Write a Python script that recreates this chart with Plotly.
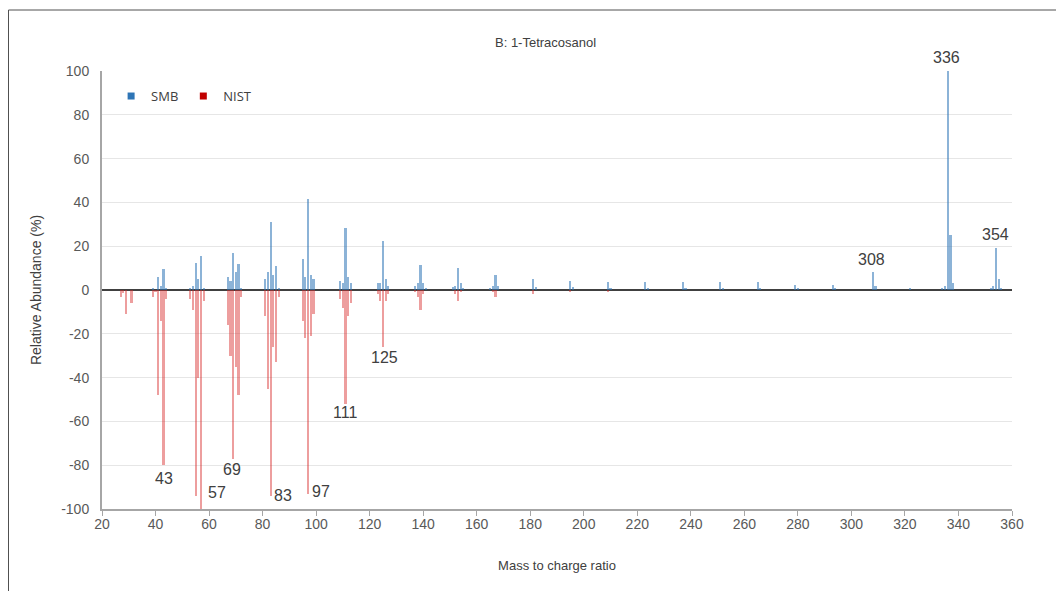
import plotly.graph_objects as go

# SMB spectrum (positive side), m/z and relative abundance (%)
smb_mz = [39, 41, 42, 43, 44, 53, 54, 55, 56, 57, 58, 67, 68, 69, 70, 71, 72,
          81, 82, 83, 84, 85, 86, 95, 96, 97, 98, 99, 109, 110, 111, 112, 113,
          123, 124, 125, 126, 127, 137, 138, 139, 140, 141, 151, 152, 153, 154, 155,
          165, 166, 167, 168, 181, 182, 195, 196, 209, 210, 223, 224, 237, 238,
          251, 252, 265, 266, 279, 280, 293, 294, 308, 309, 322, 334, 335, 336,
          337, 338, 352, 353, 354, 355, 356]
smb_ab = [1, 6, 2, 9.5, 1, 1, 2, 12.5, 5, 15.5, 1, 6, 4, 17, 8, 12, 1,
          5, 8, 31, 7, 11, 1, 14, 6, 41.5, 7, 5, 4, 3, 28.5, 6, 3,
          3, 3, 22.5, 5, 2, 2, 3, 11.5, 3, 1, 1.5, 2, 10, 3, 1,
          1, 2, 7, 2, 5, 1.5, 4, 1.5, 3.5, 1, 3.5, 1, 3.5, 1,
          3.5, 1, 3.5, 1, 2.5, 1, 2.5, 1, 8, 2, 0.8, 1, 2, 100,
          25, 3, 1, 2, 19, 5, 1]

# NIST library spectrum (drawn mirrored below zero), relative abundance (%)
nist_mz = [27, 28, 29, 31, 39, 40, 41, 42, 43, 44, 53, 54, 55, 56, 57, 58,
           67, 68, 69, 70, 71, 72, 81, 82, 83, 84, 85, 86, 95, 96, 97, 98, 99,
           109, 110, 111, 112, 113, 123, 124, 125, 126, 127, 137, 138, 139, 140,
           152, 153, 154, 166, 167, 181, 195, 209]
nist_ab = [3, 1.5, 11, 6, 3, 1, 48, 14, 80, 4, 4, 9, 94, 40, 100, 5,
           16, 30, 77, 35, 48, 3, 12, 45, 94, 26, 33, 3, 14, 22, 93, 21, 11,
           4, 8, 52, 12, 6, 2, 5, 26, 5, 2, 1, 3, 9, 2,
           2, 5, 1, 1, 3, 2, 1, 0.8]

# Peak labels (m/z position, abundance position)
lab_text = ["43", "57", "69", "83", "97", "111", "125", "308", "336", "354"]
lab_x = [43, 63, 68.6, 87.6, 102, 110.8, 125.4, 307.4, 335.4, 353.7]
lab_y = [-86, -92.5, -82, -94, -92, -56, -31, 14, 106, 25.5]

x_ticks = list(range(20, 361, 20))
y_ticks = list(range(-100, 101, 20))
y_ticklabels = [str(v) for v in y_ticks]
Y_MIN, Y_MAX = -100, 100

# layout geometry (figure px)
W, H = 1056, 583
L, R, T, B = 94, 52, 63, 82
PW, PH = W - L - R, H - T - B

fig = go.Figure()
fig.add_trace(go.Bar(x=smb_mz, y=smb_ab, width=0.8, showlegend=False,
                     marker=dict(color="rgba(46,117,182,0.55)", line=dict(width=0))))
fig.add_trace(go.Bar(x=nist_mz, y=[-v for v in nist_ab], width=0.8, showlegend=False,
                     marker=dict(color="rgba(215,40,40,0.45)", line=dict(width=0))))
# legend entries
fig.add_trace(go.Scatter(x=[None], y=[None], mode="markers", name="SMB",
                         marker=dict(symbol="square", size=7, color="#2E75B6")))
fig.add_trace(go.Scatter(x=[None], y=[None], mode="markers", name="NIST",
                         marker=dict(symbol="square", size=7, color="#C00000")))

for t, x, y in zip(lab_text, lab_x, lab_y):
    fig.add_annotation(x=x, xref="x", yref="paper", y=(y - Y_MIN) / (Y_MAX - Y_MIN),
                       yanchor="middle", text=t, showarrow=False,
                       font=dict(family="Liberation Sans", size=16, color="#404040"))

fig.add_annotation(xref="paper", yref="paper", x=(537 - L) / PW, y=(T + PH - 34) / PH,
                   xanchor="center", yanchor="middle",
                   text="B: 1-Tetracosanol", showarrow=False,
                   font=dict(family="Liberation Sans", size=13, color="#404040"))

fig.add_shape(type="rect", xref="paper", yref="paper",
              x0=(0.5 - L) / PW, x1=(1050 - L) / PW,
              y0=-0.3, y1=(T + PH - 2) / PH,
              line=dict(color="#505050", width=1), fillcolor="rgba(0,0,0,0)", layer="below")

fig.update_layout(
    width=W, height=H,
    margin=dict(l=L, r=R, t=T, b=B),
    paper_bgcolor="white", plot_bgcolor="white",
    barmode="overlay", bargap=0,
    font=dict(family="Liberation Sans", color="#595959"),
    legend=dict(orientation="h", x=0.01, y=0.977, xanchor="left", yanchor="top",
                font=dict(family="Open Sans", size=13, color="#404040"),
                itemwidth=30, tracegroupgap=0, bgcolor="rgba(0,0,0,0)"),
    xaxis=dict(range=[20, 360], tickvals=x_ticks, ticks="outside", ticklen=5,
               tickcolor="#a6a6a6", showgrid=False, zeroline=False,
               showline=True, linecolor="#a6a6a6", linewidth=1.5,
               ticklabelstandoff=-4,
               tickfont=dict(size=14, color="#595959"),
               title=dict(text="Mass to charge ratio", font=dict(size=13, color="#404040"),
                          standoff=30)),
    yaxis=dict(range=[Y_MIN, Y_MAX], tickvals=y_ticks, ticktext=y_ticklabels, ticks="",
               showgrid=True, gridcolor="#e6e6e6", gridwidth=1, zeroline=True,
               zerolinecolor="#404040", zerolinewidth=1.5, showline=True,
               linecolor="#a6a6a6", linewidth=2, ticklabelstandoff=8,
               tickfont=dict(size=14, color="#595959"),
               title=dict(text="Relative Abundance (%)", font=dict(size=14, color="#404040"),
                          standoff=16)),
)

fig.write_html("out.html")
